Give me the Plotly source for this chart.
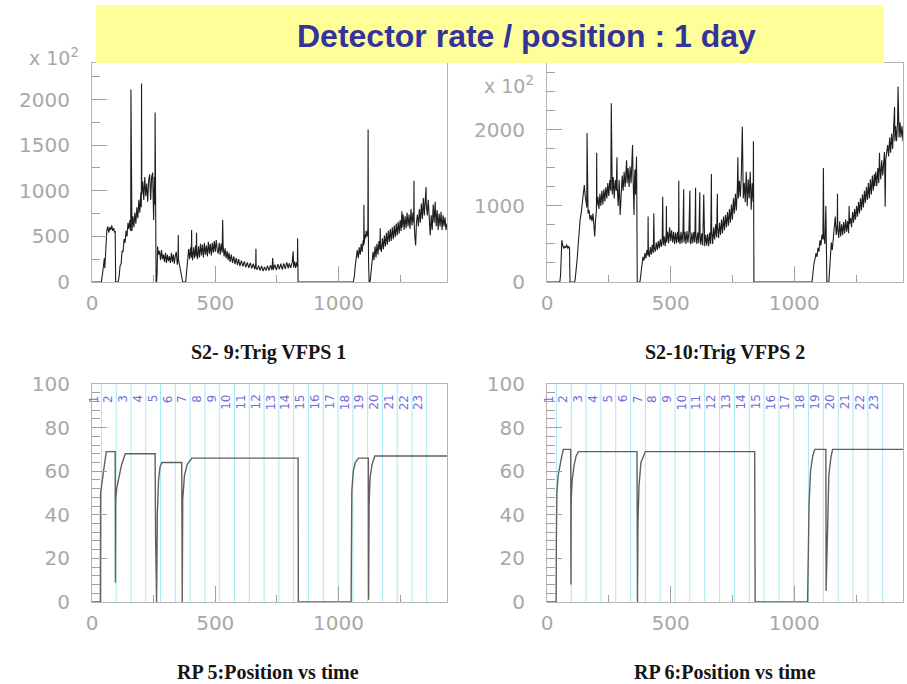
import plotly.graph_objects as go

W, H = 907, 684

# ---------------------------------------------------------------
# Data: minute of the day -> trigger rate (units of 10^2)
# ---------------------------------------------------------------
s2_9_points = [
    (0, 0), (38, 0), (44, 120), (48, 230), (50, 260), (52, 150), (56, 420), (60, 560), (64, 610),
    (68, 540), (72, 600), (76, 570), (80, 620), (84, 560), (88, 590), (92, 540), (94, 560), (96, 0),
    (106, 0), (110, 60), (114, 180), (118, 200), (122, 340), (126, 330), (130, 470), (134, 430),
    (138, 560), (142, 500), (146, 650), (150, 580), (154, 680), (157, 560), (158, 2110), (159, 700),
    (162, 560), (166, 720), (170, 600), (174, 760), (178, 640), (182, 820), (186, 700), (190, 900),
    (194, 760), (198, 980), (200, 820), (201, 2175), (202, 960), (206, 1100), (210, 900), (214, 1150),
    (218, 940), (222, 1080), (226, 880), (230, 1120), (234, 1180), (238, 900), (242, 1150), (246, 1200),
    (250, 680), (253, 1150), (255, 850), (256, 1857), (257, 1050), (259, 700), (260, 0),
    (262, 0), (264, 80), (266, 390), (270, 300), (274, 340), (278, 240), (282, 350), (286, 250),
    (290, 300), (294, 220), (298, 320), (302, 210), (306, 300), (310, 230), (314, 280), (318, 210),
    (322, 320), (326, 220), (330, 300), (334, 200), (338, 290), (342, 330), (346, 190), (349, 260),
    (350, 516), (351, 240), (356, 170), (360, 100), (364, 60), (368, 0),
    (380, 0), (384, 120), (388, 280), (392, 360), (396, 250), (400, 380), (403, 270), (404, 570),
    (405, 330), (408, 240), (412, 380), (416, 260), (420, 400), (423, 280), (424, 540), (425, 330),
    (428, 250), (432, 390), (436, 270), (440, 420), (444, 290), (448, 410), (452, 270), (456, 430),
    (460, 300), (464, 400), (468, 280), (472, 440), (476, 310), (480, 420), (484, 290), (488, 430),
    (492, 320), (496, 450), (500, 330), (504, 460), (508, 350), (512, 310), (516, 430), (520, 300),
    (524, 420), (528, 320), (530, 681), (532, 390), (536, 280), (540, 370), (544, 260), (548, 340),
    (552, 240), (556, 320), (560, 220), (565, 300), (570, 210), (575, 280), (580, 195), (585, 265),
    (590, 185), (595, 250), (600, 175), (606, 235), (612, 170), (618, 225), (624, 160), (630, 215),
    (636, 155), (642, 210), (648, 150), (654, 200), (660, 140), (664, 195), (665, 363), (666, 150),
    (670, 135), (676, 180), (682, 125), (688, 175), (694, 120), (700, 165), (706, 125), (712, 180),
    (718, 125), (724, 185), (730, 130), (733, 264), (736, 135), (742, 190), (748, 130), (754, 195),
    (760, 140), (766, 200), (772, 135), (778, 205), (784, 145), (790, 215), (796, 150), (800, 205),
    (806, 155), (812, 215), (816, 337), (818, 160), (822, 225), (826, 155), (830, 215), (833, 170),
    (834, 480), (836, 0),
    (1060, 0), (1064, 60), (1068, 180), (1072, 290), (1076, 350), (1080, 260), (1084, 380),
    (1088, 300), (1092, 420), (1096, 330), (1100, 460), (1102, 400), (1103, 846), (1104, 420),
    (1108, 520), (1110, 480), (1112, 560), (1116, 500), (1119, 580), (1120, 1670), (1121, 560),
    (1122, 200), (1124, 0),
    (1128, 0), (1132, 120), (1136, 250), (1140, 330), (1144, 240), (1148, 390), (1152, 270),
    (1156, 420), (1160, 300), (1164, 450), (1168, 350), (1169, 590), (1170, 420), (1174, 330),
    (1178, 480), (1182, 360), (1186, 510), (1190, 390), (1194, 540), (1198, 410), (1202, 560),
    (1206, 440), (1210, 580), (1214, 450), (1218, 600), (1222, 470), (1226, 620), (1230, 490),
    (1234, 640), (1238, 510), (1242, 660), (1246, 530), (1250, 680), (1254, 560), (1257, 776),
    (1258, 600), (1262, 740), (1266, 570), (1270, 720), (1274, 590), (1278, 760), (1282, 610),
    (1286, 740), (1290, 580), (1294, 800), (1298, 620), (1302, 760), (1305, 650), (1306, 1110),
    (1307, 640), (1310, 480), (1313, 400), (1316, 650), (1320, 740), (1324, 610), (1328, 800),
    (1332, 650), (1336, 860), (1340, 690), (1344, 920), (1348, 730), (1352, 940), (1355, 1040),
    (1356, 860), (1360, 730), (1364, 900), (1368, 600), (1372, 510), (1376, 730), (1380, 570),
    (1384, 850), (1388, 650), (1392, 880), (1396, 610), (1400, 790), (1404, 570), (1408, 750),
    (1412, 610), (1416, 770), (1420, 570), (1424, 730), (1428, 610), (1432, 710), (1436, 570),
    (1440, 640),
]

s2_10_points = [
    (0, 0), (52, 0), (55, 100), (58, 400), (60, 550), (64, 480), (68, 440), (72, 470), (76, 450),
    (80, 490), (84, 440), (88, 470), (91, 450), (93, 0),
    (112, 0), (114, 40), (118, 150), (122, 300), (126, 480), (130, 700), (134, 820), (138, 900),
    (141, 980), (144, 1100), (148, 1200), (151, 1275), (154, 1150), (158, 1050), (161, 980),
    (162, 1960), (163, 1000), (166, 900), (170, 950), (174, 820), (178, 880), (182, 800), (186, 900),
    (190, 760), (193, 600), (196, 800), (200, 950), (201, 1700), (202, 1000),
    (206, 1120), (210, 960), (214, 1160), (218, 1000), (222, 1200), (226, 1020), (230, 1220),
    (234, 1060), (238, 1250), (242, 1100), (246, 1300), (250, 1130), (254, 1340), (258, 1200),
    (260, 2350), (261, 1320), (264, 1150), (268, 1380), (272, 1100), (276, 1340), (280, 1200),
    (283, 1640), (284, 1250), (288, 1000), (292, 1340), (296, 880), (300, 1250), (304, 1400),
    (308, 1200), (312, 1450), (316, 1250), (320, 1550), (322, 1600), (324, 1300), (328, 1500),
    (332, 1250), (336, 1520), (340, 1300), (343, 1500), (346, 1800), (348, 1400), (350, 1200),
    (352, 880), (354, 1350), (356, 1480), (358, 1150), (360, 1500), (362, 1650), (363, 1300), (365, 0),
    (376, 0), (380, 80), (384, 220), (388, 330), (392, 280), (396, 380), (400, 310), (404, 420),
    (408, 350), (409, 860), (410, 420), (414, 330), (418, 460), (422, 360), (426, 490), (430, 380),
    (432, 900), (434, 460), (438, 400), (442, 520), (446, 420), (450, 540), (454, 440), (458, 560),
    (462, 460), (466, 580), (468, 1120), (470, 480), (474, 600), (478, 470), (482, 640), (483, 1000),
    (484, 520), (488, 660), (492, 510), (496, 720), (500, 540), (504, 680), (508, 520), (512, 660),
    (516, 500), (520, 650), (524, 510), (528, 660), (532, 520), (533, 1330), (534, 640), (538, 500),
    (542, 660), (546, 510), (550, 670), (553, 1220), (554, 520), (558, 660), (562, 500), (566, 670),
    (570, 520), (574, 660), (578, 1200), (579, 520), (582, 500), (586, 650), (590, 510), (594, 660),
    (598, 520), (601, 1240), (602, 640), (606, 500), (610, 650), (614, 510), (618, 1180), (619, 640),
    (622, 490), (626, 640), (630, 480), (634, 1150), (635, 620), (638, 470), (642, 620), (646, 480),
    (650, 630), (654, 470), (658, 650), (662, 500), (665, 1420), (666, 680), (670, 500), (674, 720),
    (678, 560), (682, 760), (686, 590), (689, 1160), (690, 740), (694, 580), (698, 780), (702, 620),
    (706, 820), (710, 640), (714, 860), (718, 680), (722, 880), (726, 720), (730, 920), (734, 740),
    (738, 960), (742, 780), (746, 1020), (750, 820), (754, 1100), (758, 900), (762, 1160), (766, 940),
    (770, 1250), (772, 1640), (774, 1100), (778, 1330), (782, 1120), (786, 1400), (790, 2040),
    (791, 1350), (794, 1100), (798, 1300), (802, 1050), (806, 1450), (810, 1000), (814, 1350),
    (818, 1100), (822, 1450), (826, 950), (830, 1300), (834, 1050), (835, 1850), (837, 0),
    (1072, 0), (1076, 150), (1080, 250), (1084, 300), (1088, 380), (1092, 330), (1096, 450),
    (1100, 400), (1104, 550), (1108, 480), (1112, 620), (1116, 560), (1118, 1500), (1120, 600),
    (1124, 500), (1128, 1000), (1130, 400), (1132, 0),
    (1140, 0), (1142, 150), (1146, 420), (1150, 520), (1154, 420), (1158, 650), (1162, 720),
    (1166, 860), (1170, 620), (1174, 760), (1175, 1160), (1176, 700), (1180, 580), (1184, 800),
    (1188, 600), (1192, 760), (1196, 620), (1200, 790), (1204, 640), (1208, 820), (1212, 660),
    (1216, 800), (1220, 640), (1222, 1000), (1224, 760), (1228, 840), (1232, 720), (1236, 920),
    (1240, 780), (1244, 960), (1248, 820), (1252, 1000), (1256, 860), (1260, 1050), (1264, 900),
    (1268, 1100), (1272, 940), (1276, 1150), (1280, 980), (1284, 1200), (1288, 1040), (1292, 1250),
    (1296, 1080), (1300, 1300), (1304, 1100), (1308, 1350), (1312, 1150), (1316, 1400), (1320, 1200),
    (1324, 1420), (1326, 1260), (1330, 1450), (1334, 1260), (1338, 1500), (1342, 1300), (1345, 1700),
    (1346, 1550), (1350, 1350), (1354, 1600), (1358, 1400), (1362, 1650), (1365, 1710), (1366, 1500),
    (1368, 990), (1370, 1600), (1374, 1700), (1378, 1800), (1382, 1650), (1386, 1900), (1390, 1700),
    (1394, 1950), (1398, 1750), (1402, 2000), (1406, 2300), (1407, 1850), (1410, 2050), (1414, 1850),
    (1418, 2100), (1420, 2570), (1421, 2000), (1424, 1900), (1428, 2100), (1432, 1900), (1436, 2050),
    (1440, 1850),
]

# minute of the day -> roman pot position
rp5_points = [
    (0, 0), (34, 0), (35, 50), (40, 55), (48, 61), (58, 69), (94, 69), (95, 9), (96, 47), (100, 52),
    (110, 58), (120, 63), (135, 68), (256, 68), (258, 30), (260, 2), (262, 0), (265, 40), (270, 56),
    (276, 62), (284, 64), (364, 64), (365, 0), (366, 0), (368, 47), (375, 58), (386, 63), (405, 66),
    (836, 66), (837, 0), (1051, 0), (1052, 15), (1054, 51), (1060, 60), (1068, 64), (1081, 66),
    (1121, 66), (1122, 1), (1124, 45), (1128, 57), (1136, 63), (1147, 67), (1440, 67),
]

rp6_points = [
    (0, 0), (37, 0), (38, 30), (40, 50), (45, 58), (52, 63), (60, 67), (66, 70), (96, 70), (97, 8),
    (98, 47), (102, 56), (110, 63), (118, 67), (127, 69), (364, 69), (365, 0), (366, 0), (368, 36),
    (372, 53), (380, 64), (398, 69), (840, 69), (841, 6), (842, 0), (1054, 0), (1056, 20),
    (1060, 45), (1066, 60), (1075, 67), (1083, 70), (1128, 70), (1129, 5), (1135, 45), (1140, 58),
    (1148, 66), (1155, 70), (1440, 70),
]

hour_labels = [str(h) for h in range(1, 24)]
first_hour_minute = 38          # minute of the first full-hour boundary
x_ticks = [0, 500, 1000]

titles = ["S2- 9:Trig VFPS 1", "S2-10:Trig VFPS 2",
          "RP 5:Position vs time", "RP 6:Position vs time"]
banner_text = "Detector rate / position : 1 day"


# ---------------------------------------------------------------
# Layout helpers (pixel boxes -> paper fractions)
# ---------------------------------------------------------------
def xdom(a, b):
    return [a / W, b / W]


def ydom(top, bottom):
    return [1 - bottom / H, 1 - top / H]


FRAME = "#b4b4b4"
TICK = "#a0a0a0"
tick_font = dict(family="DejaVu Sans", size=20, color="#a8a8a8")

boxes = [((92, 447), (63, 282)), ((547, 903), (63, 282)),
         ((92, 447), (384, 602)), ((547, 903), (384, 602))]
y_ranges = [[0, 2400], [0, 2880], [0, 100], [0, 100]]
y_dticks = [500, 1000, 20, 20]
y_minor = [250, 250, 4, 4]

fig = go.Figure()

layout = dict(
    width=W, height=H, autosize=False,
    margin=dict(l=0, r=0, t=0, b=0, pad=0, autoexpand=False),
    paper_bgcolor="white", plot_bgcolor="white", showlegend=False,
)

for i, ((xa, xb), (yt, yb)) in enumerate(boxes):
    n = "" if i == 0 else str(i + 1)
    layout["xaxis" + n] = dict(
        domain=xdom(xa, xb), range=[0, 1440], anchor="y" + n, automargin=False,
        showline=True, mirror=True, linecolor=FRAME, linewidth=1,
        ticks="inside", ticklen=16, tickcolor=TICK, tickwidth=1,
        tickmode="array", tickvals=x_ticks, ticktext=[str(v) for v in x_ticks],
        minor=dict(dtick=250, tick0=0, ticks="inside", ticklen=7, tickcolor=TICK),
        showgrid=False, zeroline=False, tickfont=tick_font, ticklabelstandoff=3,
        fixedrange=True,
    )
    layout["yaxis" + n] = dict(
        domain=ydom(yt, yb), range=y_ranges[i], anchor="x" + n, automargin=False,
        showline=True, mirror=True, linecolor=FRAME, linewidth=1,
        ticks="inside", ticklen=15, tickcolor=TICK, tickwidth=1,
        dtick=y_dticks[i], tick0=0,
        minor=dict(dtick=y_minor[i], tick0=0, ticks="inside", ticklen=8, tickcolor=TICK),
        showgrid=False, zeroline=False, tickfont=tick_font, ticklabelstandoff=17,
        fixedrange=True,
    )

# rate histograms
for i, pts in enumerate([s2_9_points, s2_10_points]):
    n = "" if i == 0 else str(i + 1)
    fig.add_trace(go.Scatter(
        x=[p[0] for p in pts], y=[p[1] for p in pts], mode="lines",
        line=dict(color="#1e1e1e", width=1.1), xaxis="x" + n, yaxis="y" + n,
        hoverinfo="skip",
    ))

# pot positions
for i, pts in enumerate([rp5_points, rp6_points]):
    n = str(i + 3)
    fig.add_trace(go.Scatter(
        x=[p[0] for p in pts], y=[p[1] for p in pts], mode="lines",
        line=dict(color="#606060", width=1.4), xaxis="x" + n, yaxis="y" + n,
        hoverinfo="skip",
    ))

shapes = []
annotations = []

# hour markers on the position plots
for n in ("3", "4"):
    for k, lab in enumerate(hour_labels):
        t = first_hour_minute + 60 * k
        shapes.append(dict(type="line", xref="x" + n, yref="y" + n, x0=t, x1=t, y0=0, y1=100,
                           line=dict(color="#a6eaf2", width=1), layer="below"))
        annotations.append(dict(xref="x" + n, yref="y" + n, x=t, y=95.5, text=lab,
                                textangle=-90, xanchor="right", yanchor="top", showarrow=False,
                                borderpad=0,
                                font=dict(family="DejaVu Sans", size=12, color="#6e6edc")))

# title banner
shapes.append(dict(type="rect", xref="paper", yref="paper",
                   x0=96 / W, x1=884 / W, y0=1 - 63 / H, y1=1 - 5 / H,
                   fillcolor="#ffff99", line=dict(width=0), layer="above"))
annotations.append(dict(xref="paper", yref="paper", x=526 / W, y=1 - 36 / H, text=banner_text,
                        showarrow=False, xanchor="center", yanchor="middle",
                        font=dict(family="Liberation Sans", size=32, color="#333399", weight="bold")))

# panel titles
title_pos = [(268, 352), (725, 352), (268, 672), (725, 672)]
for txt, (cx, cy) in zip(titles, title_pos):
    annotations.append(dict(xref="paper", yref="paper", x=cx / W, y=1 - cy / H, text=txt,
                            showarrow=False, xanchor="center", yanchor="middle",
                            font=dict(family="Liberation Serif", size=20, color="#151515",
                                      weight="bold")))

# axis multipliers
for (lx, cy) in [(27, 57), (482, 85)]:
    annotations.append(dict(xref="paper", yref="paper", x=lx / W, y=1 - cy / H,
                            text="x 10<sup>2</sup>", showarrow=False,
                            xanchor="left", yanchor="middle",
                            font=dict(family="DejaVu Sans", size=19, color="#a8a8a8")))

layout["shapes"] = shapes
layout["annotations"] = annotations
fig.update_layout(**layout)

fig.write_html(
    "out.html",
    post_script="document.body.style.margin='0';document.body.style.overflow='hidden';",
)
